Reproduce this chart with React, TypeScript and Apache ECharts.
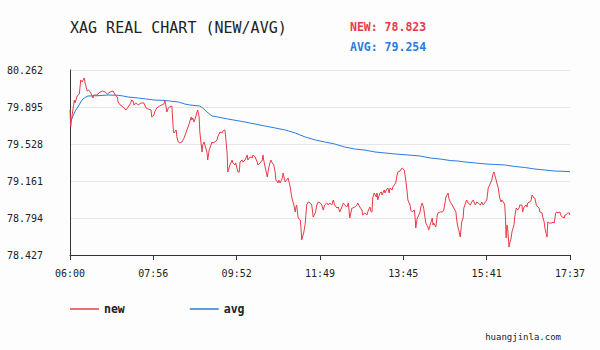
import React, { useEffect, useRef } from "react";
import * as echarts from "echarts";

// minutes since 06:00
const newTimes = [
  0, 1, 3, 6, 7, 10, 13, 15, 17, 20, 21, 24, 26, 29, 32, 33, 38, 40, 45, 49, 52, 56, 60, 63, 66, 67, 70, 74, 78, 81,
  84, 86, 88, 89, 92, 95, 99, 103, 106, 109, 113, 114, 117, 118, 121, 125, 128, 131, 132, 134, 135, 137, 139, 142, 144, 145, 148, 149, 151, 153,
  156, 159, 162, 163, 166, 169, 170, 171, 173, 176, 177, 178, 180, 181, 184, 185, 187, 190, 191, 192, 194, 195, 198, 199, 202, 205, 206, 209, 212, 213,
  216, 217, 219, 220, 223, 226, 227, 230, 231, 234, 236, 237, 240, 241, 244, 247, 248, 251, 254, 255, 258, 261, 262, 265, 268, 269, 270, 272, 275, 276,
  277, 279, 280, 282, 284, 286, 287, 290, 291, 293, 296, 297, 300, 302, 304, 307, 308, 309, 312, 314, 315, 316, 318, 321, 322, 323, 326, 328, 329, 330,
  332, 335, 337, 339, 342, 344, 346, 349, 351, 353, 355, 358, 360, 362, 365, 367, 369, 372, 374, 376, 379, 381, 383, 386, 388, 390, 393, 394, 397, 400,
  401, 404, 407, 408, 411, 414, 415, 418, 420, 421, 422, 424, 427, 428, 429, 432, 434, 435, 438, 439, 441, 443, 445, 446, 449, 450, 452, 454, 456, 457,
  460, 461, 463, 466, 467, 468, 470, 471, 474, 475, 477, 480, 481, 482, 484, 485, 488, 489, 491, 493, 495, 496, 499, 500, 502, 505, 506, 507, 510, 512,
  513, 516, 519, 521, 523, 524, 527, 528, 530, 533, 534, 535, 538, 539, 541, 542, 544, 546, 548, 549, 552, 553, 555, 558, 560, 562, 565, 567, 569, 572,
  574, 576, 579, 581, 583, 585, 588, 590, 591, 594, 595, 597, 599, 601, 602, 605, 606, 607, 608, 609, 610, 612, 613, 615, 616, 619, 620, 622, 624, 626,
  627, 630, 631, 633, 636, 637, 638, 641, 643, 644, 647, 648, 650, 652, 654, 655, 658, 659, 661, 662, 665, 666, 668, 669, 672, 673, 675, 677, 679, 680,
  683, 684, 686, 689, 690, 691, 694, 696, 697,
];
const newValues = [
  79.865, 79.697, 79.816, 79.964, 79.935, 80.004, 80.024, 80.163, 80.143, 80.183, 80.133, 80.054, 80.064, 80.034, 79.984, 80.014, 80.014, 80.034, 80.054, 80.044, 80.024, 80.044, 80.054, 80.014, 79.994, 79.945, 79.915, 79.895, 79.865, 79.895,
  79.925, 79.964, 79.954, 79.915, 79.935, 79.915, 79.935, 79.935, 79.885, 79.875, 79.865, 79.796, 79.816, 79.845, 79.885, 79.905, 79.915, 79.925, 79.964, 79.895, 79.845, 79.885, 79.895, 79.905, 79.667, 79.637, 79.667, 79.597, 79.548, 79.538,
  79.548, 79.587, 79.647, 79.667, 79.726, 79.796, 79.766, 79.786, 79.746, 79.816, 79.845, 79.865, 79.796, 79.647, 79.449, 79.518, 79.548, 79.468, 79.439, 79.369, 79.468, 79.488, 79.548, 79.538, 79.548, 79.568, 79.597, 79.647, 79.637, 79.657,
  79.667, 79.597, 79.439, 79.25, 79.32, 79.369, 79.34, 79.32, 79.34, 79.25, 79.25, 79.349, 79.369, 79.349, 79.369, 79.419, 79.369, 79.399, 79.389, 79.419, 79.399, 79.349, 79.32, 79.34, 79.369, 79.419, 79.369, 79.3, 79.201, 79.25,
  79.29, 79.349, 79.369, 79.34, 79.32, 79.25, 79.171, 79.141, 79.171, 79.141, 79.191, 79.24, 79.151, 79.171, 79.191, 79.101, 79.052, 79.002, 78.923, 78.854, 78.903, 78.923, 78.794, 78.774, 78.695, 78.576, 78.655, 78.744, 78.844, 78.923,
  78.953, 78.943, 78.923, 78.804, 78.844, 78.923, 78.953, 78.943, 78.923, 78.873, 78.923, 78.943, 78.923, 78.943, 78.923, 78.973, 78.923, 78.893, 78.903, 78.854, 78.903, 78.943, 78.923, 78.903, 78.943, 78.794, 78.893, 78.893, 78.903, 78.923,
  78.943, 78.903, 78.873, 78.824, 78.844, 78.824, 78.854, 78.903, 78.854, 78.854, 78.992, 79.042, 79.002, 79.042, 78.973, 79.042, 79.052, 79.022, 79.072, 79.042, 79.072, 79.092, 79.042, 79.092, 79.072, 79.101, 79.121, 79.141, 79.221, 79.25,
  79.26, 79.27, 79.29, 79.27, 79.221, 79.171, 79.052, 78.973, 78.923, 78.873, 78.854, 78.873, 78.804, 78.695, 78.794, 78.804, 78.854, 78.903, 78.943, 78.893, 78.794, 78.744, 78.705, 78.675, 78.725, 78.794, 78.725, 78.744, 78.705, 78.824,
  78.844, 78.854, 78.854, 78.873, 78.953, 79.002, 79.042, 78.992, 78.953, 78.923, 78.903, 78.893, 78.854, 78.774, 78.695, 78.675, 78.606, 78.754, 78.794, 78.893, 78.953, 78.973, 78.943, 78.923, 78.953, 78.973, 78.923, 78.953, 78.943, 78.923,
  78.953, 78.923, 78.953, 78.973, 79.092, 79.121, 79.171, 79.24, 79.25, 79.171, 79.141, 79.092, 78.992, 78.953, 78.973, 78.943, 78.923, 78.804, 78.596, 78.725, 78.705, 78.506, 78.546, 78.596, 78.655, 78.725, 78.804, 78.893, 78.873, 78.893,
  78.923, 78.923, 78.854, 78.903, 78.923, 78.903, 78.943, 78.953, 78.973, 79.022, 78.992, 78.992, 78.923, 78.903, 78.893, 78.854, 78.844, 78.804, 78.754, 78.695, 78.606, 78.754, 78.744, 78.744, 78.744, 78.754, 78.744, 78.844, 78.854, 78.844,
  78.854, 78.824, 78.804, 78.794, 78.824, 78.824, 78.844, 78.844, 78.823,
];

const avgTimes = [
  0, 3, 6, 8, 11, 15, 18, 22, 25, 39, 53, 67, 74, 81, 95, 118, 132, 139, 151, 160, 167, 181, 185, 191, 198, 206, 220, 244, 258, 272,
  286, 300, 314, 328, 342, 355, 369, 383, 397, 411, 425, 439, 453, 471, 488, 502, 516, 530, 541, 551, 565, 579, 592, 606, 620, 634, 648, 662, 676, 697,
];
const avgValues = [
  79.736, 79.786, 79.835, 79.865, 79.895, 79.945, 79.974, 79.994, 80.004, 80.007, 80.014, 80.011, 80.004, 79.994, 79.984, 79.964, 79.96, 79.954, 79.945, 79.925, 79.915, 79.905, 79.885, 79.845, 79.806, 79.796, 79.776, 79.746, 79.726, 79.706,
  79.687, 79.667, 79.637, 79.597, 79.568, 79.548, 79.528, 79.498, 79.478, 79.468, 79.449, 79.439, 79.429, 79.419, 79.409, 79.389, 79.379, 79.364, 79.359, 79.349, 79.34, 79.33, 79.325, 79.32, 79.305, 79.295, 79.28, 79.27, 79.26, 79.254,
];

const yTicks = [78.427, 78.794, 79.161, 79.528, 79.895, 80.262];
const xTicks = [0, 116.17, 232.33, 348.5, 464.67, 580.83, 697];
const START_MINUTE = 6 * 60;

const titleText = "XAG REAL CHART (NEW/AVG)";
const legendNames = ["new", "avg"];
const siteText = "huangjinla.com";

const RED = "#e63c48";
const BLUE = "#2a7be4";
const MONO = '"DejaVu Sans Mono", "Liberation Mono", monospace';

function fmtTime(m: number) {
  const t = START_MINUTE + Math.round(m);
  const hh = Math.floor(t / 60);
  const mm = t % 60;
  return String(hh).padStart(2, "0") + ":" + String(mm).padStart(2, "0");
}

export default function App() {
  const ref = useRef<HTMLDivElement>(null);
  useEffect(() => {
    if (!ref.current) return;
    const chart = echarts.init(ref.current, undefined, { renderer: "svg" });
    const newData = newTimes.map((t, i) => [t, newValues[i]]);
    const avgData = avgTimes.map((t, i) => [t, avgValues[i]]);
    const lastNew = newValues[newValues.length - 1];
    const lastAvg = avgValues[avgValues.length - 1];
    chart.setOption({
      animation: false,
      backgroundColor: "#fcfdfc",
      textStyle: { fontFamily: MONO },
      grid: { left: 70, right: 30, top: 70, bottom: 95, containLabel: false },
      xAxis: {
        type: "value",
        min: 0,
        max: 697,
        axisLine: { show: true, lineStyle: { color: "#333", width: 1 } },
        axisTick: { show: true, customValues: xTicks, length: 5, lineStyle: { color: "#333" } },
        axisLabel: {
          customValues: xTicks,
          formatter: (v: number) => fmtTime(v),
          margin: 13,
          fontFamily: MONO,
          fontSize: 10,
          color: "#222",
        },
        splitLine: { show: false },
      },
      yAxis: {
        type: "value",
        min: 78.427,
        max: 80.262,
        axisLine: { show: true, lineStyle: { color: "#333", width: 1 } },
        axisTick: { show: false, customValues: yTicks },
        axisLabel: {
          customValues: yTicks,
          formatter: (v: number) => v.toFixed(3),
          margin: 27,
          fontFamily: MONO,
          fontSize: 10,
          color: "#222",
        },
        splitLine: { show: true, lineStyle: { color: "#e6e6e6", width: 1 } },
      },
      legend: {
        data: legendNames,
        left: 70,
        top: 303,
        padding: 0,
        icon: "rect",
        itemWidth: 29,
        itemHeight: 1.5,
        itemGap: 65,
        textStyle: { fontFamily: MONO, fontSize: 11.5, fontWeight: "bold", color: "#222" },
      },
      graphic: [
        {
          type: "text",
          style: { text: titleText, x: 70, y: 28, verticalAlign: "middle", font: "15px " + MONO, fill: "#222" },
        },
        {
          type: "text",
          style: { text: "NEW: " + lastNew.toFixed(3), x: 350, y: 27, verticalAlign: "middle", font: "bold 11.5px " + MONO, fill: RED },
        },
        {
          type: "text",
          style: { text: "AVG: " + lastAvg.toFixed(3), x: 350, y: 47, verticalAlign: "middle", font: "bold 11.5px " + MONO, fill: BLUE },
        },
        {
          type: "text",
          style: { text: siteText, x: 561, y: 337, align: "right", verticalAlign: "middle", font: "9px " + MONO, fill: "#222" },
        },
      ],
      series: [
        {
          name: "new",
          type: "line",
          data: newData,
          symbol: "none",
          lineStyle: { color: RED, width: 1 },
          itemStyle: { color: RED },
          z: 3,
        },
        {
          name: "avg",
          type: "line",
          data: avgData,
          symbol: "none",
          lineStyle: { color: BLUE, width: 1 },
          itemStyle: { color: BLUE },
          z: 2,
        },
      ],
    });
    return () => chart.dispose();
  }, []);
  return <div ref={ref} style={{ position: "fixed", left: 0, top: 0, width: 600, height: 350 }} />;
}
